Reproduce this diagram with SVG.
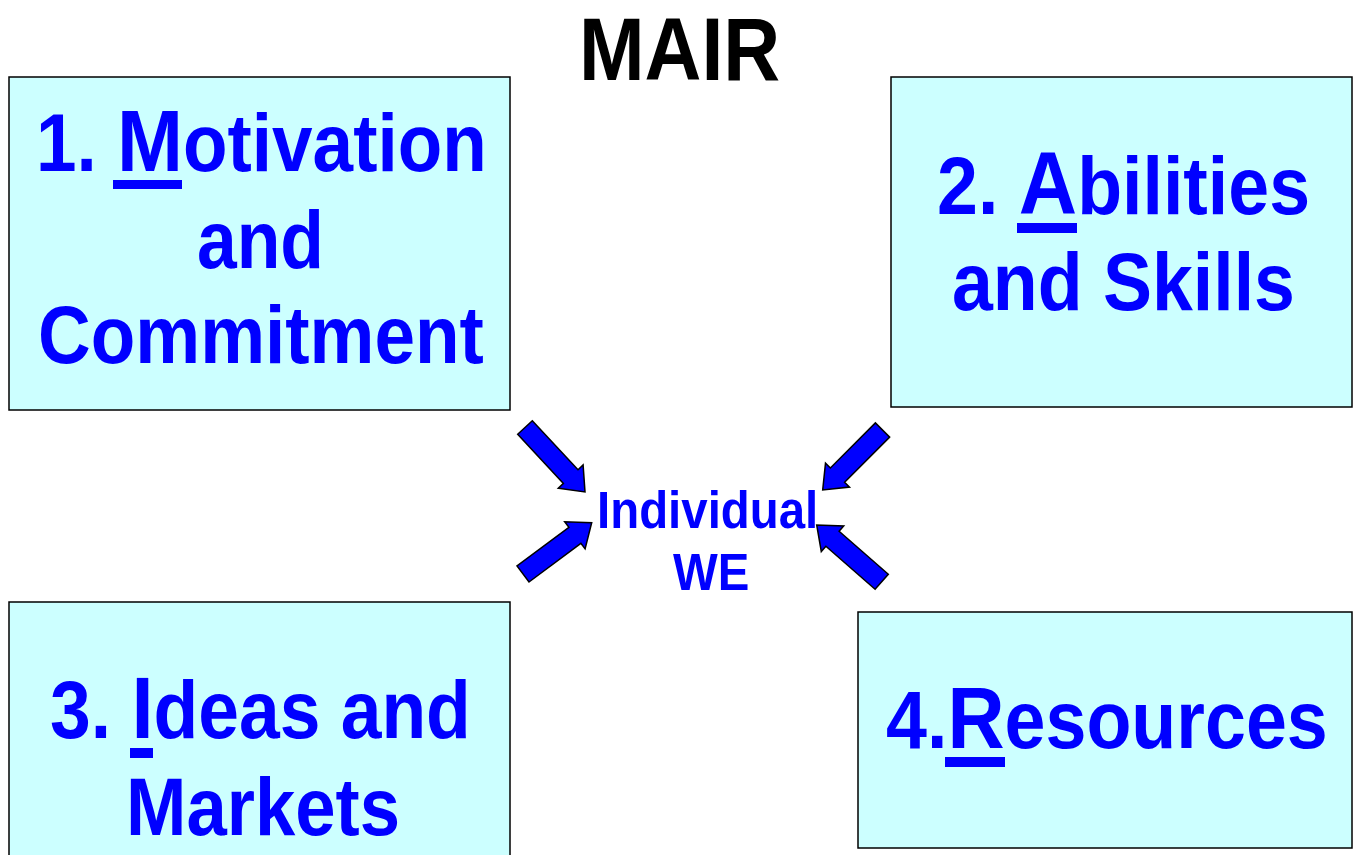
<svg xmlns="http://www.w3.org/2000/svg" width="1356" height="855" viewBox="0 0 1356 855">
<style>
.box{fill:#CCFFFF;stroke:#000;stroke-width:1.5}
.t{font-family:"Liberation Sans",Arial,sans-serif;font-weight:bold;fill:#0000FF;font-size:81px}
.c{font-family:"Liberation Sans",Arial,sans-serif;font-weight:bold;fill:#0000FF;font-size:51px}
.title{font-family:"Liberation Sans",Arial,sans-serif;font-weight:bold;fill:#000;font-size:89px}
.ul{fill:#0000FF}
.arr{fill:#0000FF;stroke:#000;stroke-width:1.5;stroke-linejoin:miter}
</style>
<rect width="1356" height="855" fill="#fff"/>
<text class="title" transform="translate(579,80) scale(0.885,1)">MAIR</text>
<g id="node-motivation">
<rect class="box" x="9" y="77" width="501" height="333"/>
<text class="t" transform="translate(36,171) scale(0.9,1)">1. <tspan font-size="88">M</tspan>otivation</text>
<rect class="ul" x="113" y="180" width="69" height="9"/>
<text class="t" transform="translate(197,268) scale(0.882,1)">and</text>
<text class="t" transform="translate(38,363) scale(0.901,1)">Commitment</text>
</g>
<g id="node-abilities">
<rect class="box" x="891" y="77" width="461" height="330"/>
<text class="t" transform="translate(937,214) scale(0.908,1)">2. <tspan font-size="89">A</tspan>bilities</text>
<rect class="ul" x="1017" y="223" width="60" height="10"/>
<text class="t" transform="translate(952,310) scale(0.907,1)">and Skills</text>
</g>
<g id="node-ideas">
<rect class="box" x="9" y="602" width="501" height="270"/>
<text class="t" transform="translate(50,738) scale(0.904,1)">3. <tspan font-size="88">I</tspan>deas and</text>
<rect class="ul" x="130" y="748" width="23" height="10"/>
<text class="t" transform="translate(126,835) scale(0.895,1)">Markets</text>
</g>
<g id="node-resources">
<rect class="box" x="858" y="612" width="494" height="236"/>
<text class="t" transform="translate(886,748) scale(0.909,1)">4.<tspan font-size="87">R</tspan>esources</text>
<rect class="ul" x="945" y="757" width="60" height="10"/>
</g>
<g id="node-center">
<text class="c" transform="translate(597,528) scale(0.93,1)">Individual</text>
<text class="c" transform="translate(673,590) scale(0.93,1)">WE</text>
</g>
<g id="connectors">
<polygon class="arr" points="532.3,420.7 578.0,469.8 583.1,465.0 585,492 558.3,488.2 563.4,483.4 517.7,434.3"/>
<polygon class="arr" points="529.0,582.0 580.9,543.3 585.1,548.9 591.7,522.7 564.7,521.7 568.9,527.3 517.0,566.0"/>
<polygon class="arr" points="889.6,437.1 844.6,482.2 849.5,487.1 822.7,490 825.5,463.1 830.4,468.0 875.4,422.9"/>
<polygon class="arr" points="888.3,574.2 839.1,531.3 843.7,526.0 816.7,525 821.3,551.6 825.9,546.3 875.1,589.2"/>
</g>
</svg>
